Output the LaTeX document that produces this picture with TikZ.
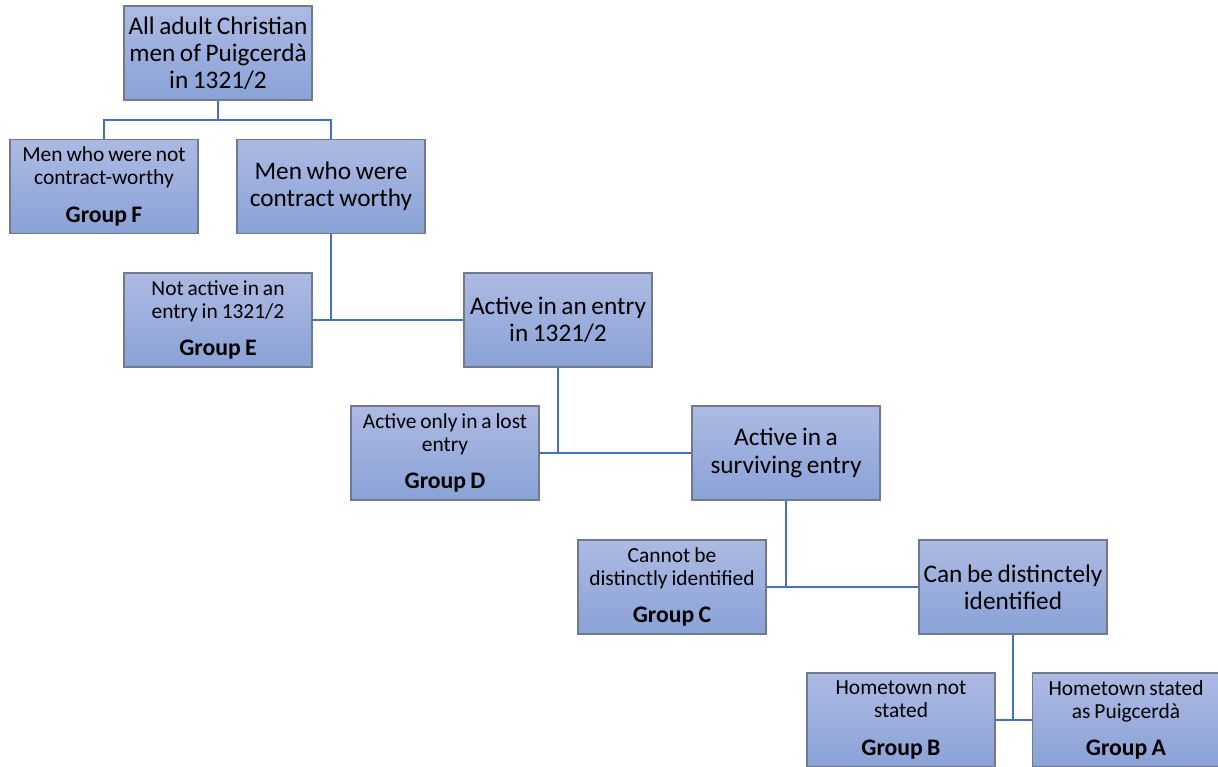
\documentclass[tikz,border=0pt]{standalone}
\usepackage{fontspec}
\setmainfont{Carlito}[WordSpace=0.8]
\usepackage{xcolor}
\usepackage{tikz}
\usetikzlibrary{calc}
\definecolor{BoxTop}{RGB}{172,186,226}
\definecolor{BoxBottom}{RGB}{138,162,215}
\definecolor{BoxEdge}{RGB}{112,122,140}
\definecolor{LinkBlue}{RGB}{70,112,190}
\newcommand{\grouplabel}[1]{{\fontsize{13.5}{13}\selectfont\bfseries Group #1}}

\begin{document}
\begin{tikzpicture}[x=0.02cm,y=-0.02cm,
  stage/.style={draw=BoxEdge,line width=0.6pt,top color=BoxTop,bottom color=BoxBottom,
    minimum width=3.76cm,minimum height=1.88cm,align=center,
    inner sep=0.5pt,font=\fontsize{14.4}{15.5}\selectfont},
  groupbox/.style={stage,font=\fontsize{12.2}{13}\selectfont},
  link/.style={LinkBlue,line width=1.4pt}]
  \useasboundingbox (0,0) rectangle (1218,767);
  % boxes
  \node[stage] (root) at (218,53) {All adult Christian\\men of Puigcerdà\\in 1321/2};
  \node[groupbox] (F) at (104,186.5) {Men who were not\\contract-worthy\\[8.5pt]\grouplabel{F}};
  \node[stage] (worthy) at (331,186.5) {Men who were\\contract worthy};
  \node[groupbox] (E) at (218,320) {Not active in an\\entry in 1321/2\\[8.5pt]\grouplabel{E}};
  \node[stage] (active) at (558,320) {Active in an entry\\in 1321/2};
  \node[groupbox] (D) at (445,453) {Active only in a lost\\entry\\[8.5pt]\grouplabel{D}};
  \node[stage] (surv) at (786,453) {Active in a\\surviving entry};
  \node[groupbox] (C) at (672,587) {Cannot be\\distinctly identified\\[8.5pt]\grouplabel{C}};
  \node[stage] (ident) at (1013,587) {Can be distinctely\\identified};
  \node[groupbox] (B) at (901,720) {Hometown not\\stated\\[8.5pt]\grouplabel{B}};
  \node[groupbox] (A) at (1126,720) {Hometown stated\\as Puigcerdà\\[8.5pt]\grouplabel{A}};
  % connectors
  \draw[link] (root.south) -- ++(0,19.5) coordinate (split);
  \draw[link] (F.north) |- (split) -| (worthy.north);
  \draw[link] (worthy.south) |- (E.east) -- (active.west);
  \draw[link] (active.south) |- (D.east) -- (surv.west);
  \draw[link] (surv.south) |- (C.east) -- (ident.west);
  \draw[link] (ident.south) |- (B.east) -- (A.west);
\end{tikzpicture}
\end{document}
